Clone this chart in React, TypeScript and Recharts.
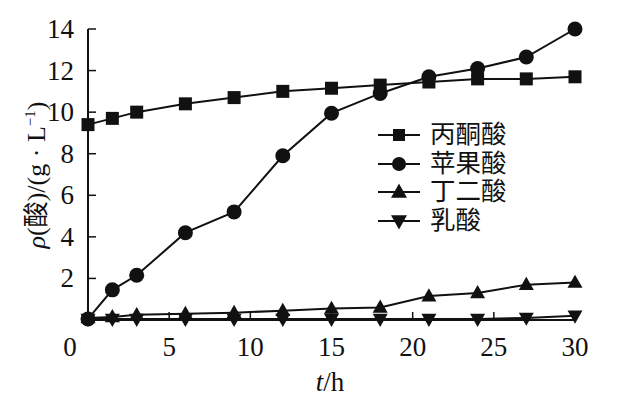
import { LineChart, Line, XAxis, YAxis, Legend } from 'recharts'

const hours = [0, 1.5, 3, 6, 9, 12, 15, 18, 21, 24, 27, 30]
const pyruvate = [9.4, 9.7, 10.0, 10.4, 10.7, 11.0, 11.15, 11.3, 11.45, 11.6, 11.6, 11.7]
const malic = [0.05, 1.45, 2.15, 4.2, 5.2, 7.9, 9.95, 10.9, 11.7, 12.1, 12.65, 14.0]
const succinic = [0.1, 0.15, 0.25, 0.3, 0.35, 0.45, 0.55, 0.6, 1.15, 1.3, 1.7, 1.8]
const lactic = [0.05, 0.05, 0.05, 0.05, 0.05, 0.05, 0.05, 0.05, 0.05, 0.05, 0.1, 0.2]

const seriesNames = ['丙酮酸', '苹果酸', '丁二酸', '乳酸']
const xTicks = [0, 5, 10, 15, 20, 25, 30]
const yTicks = [2, 4, 6, 8, 10, 12, 14]

const data = hours.map((t, i) => ({
  t,
  pyruvate: pyruvate[i],
  malic: malic[i],
  succinic: succinic[i],
  lactic: lactic[i],
}))

const serif = '"Liberation Serif", "DejaVu Serif", serif'
const cjk = '"Liberation Serif", "Noto Sans CJK SC", serif'

type Shape = 'square' | 'circle' | 'up' | 'down'

// s = marker width in px
function marker(shape: Shape, cx: number, cy: number, s: number, key?: string) {
  if (shape === 'square') {
    return <rect key={key} x={cx - s / 2} y={cy - s / 2} width={s} height={s} fill="#111" />
  }
  if (shape === 'circle') {
    return <circle key={key} cx={cx} cy={cy} r={s / 2} fill="#111" />
  }
  const h = s * 0.88
  const w = s
  if (shape === 'up') {
    return (
      <polygon
        key={key}
        points={`${cx},${cy - h * 0.6} ${cx - w / 2},${cy + h * 0.4} ${cx + w / 2},${cy + h * 0.4}`}
        fill="#111"
      />
    )
  }
  return (
    <polygon
      key={key}
      points={`${cx},${cy + h * 0.6} ${cx - w / 2},${cy - h * 0.4} ${cx + w / 2},${cy - h * 0.4}`}
      fill="#111"
    />
  )
}

const dotFor = (shape: Shape, s: number) => (props: any) =>
  marker(shape, props.cx, props.cy, s, `${shape}-${props.index}`)

const XTick = (props: any) => {
  const { x, y, payload } = props
  const v = payload.value
  return (
    <g>
      {v !== 0 && <line x1={x} y1={y} x2={x} y2={y - 8} stroke="#111" strokeWidth={1.5} />}
      <text
        x={v === 0 ? x - 18 : x}
        y={y + 36}
        textAnchor="middle"
        style={{ fontFamily: serif, fontSize: 27 }}
        fill="#111"
      >
        {v}
      </text>
    </g>
  )
}

const YTick = (props: any) => {
  const { x, y, payload } = props
  return (
    <g>
      <line x1={x} y1={y} x2={x + 8} y2={y} stroke="#111" strokeWidth={1.5} />
      <text x={x - 14} y={y + 9} textAnchor="end" style={{ fontFamily: serif, fontSize: 27 }} fill="#111">
        {payload.value}
      </text>
    </g>
  )
}

const shapes: Shape[] = ['square', 'circle', 'up', 'down']
const legendSizes = [12, 14, 16, 16]

const renderLegend = () => (
  <div style={{ display: 'flex', flexDirection: 'column' }}>
    {seriesNames.map((name, i) => (
      <div key={name} style={{ display: 'flex', alignItems: 'center', height: 28.5 }}>
        <svg width={52} height={28} style={{ display: 'block' }}>
          <line x1={0} y1={14} x2={42} y2={14} stroke="#111" strokeWidth={2} />
          {marker(shapes[i], 21, 14, legendSizes[i])}
        </svg>
        <span style={{ fontFamily: cjk, fontSize: 25.5, color: '#111', lineHeight: '28px' }}>{name}</span>
      </div>
    ))}
  </div>
)

const XLabel = () => (
  <text x={330} y={391} textAnchor="middle" style={{ fontFamily: serif, fontSize: 27 }} fill="#111">
    <tspan fontStyle="italic">t</tspan>
    <tspan>/h</tspan>
  </text>
)

const YLabel = () => (
  <text
    x={0}
    y={0}
    transform="translate(45,175) rotate(-90)"
    textAnchor="middle"
    style={{ fontFamily: cjk, fontSize: 26 }}
    fill="#111"
  >
    <tspan fontStyle="italic">ρ</tspan>
    <tspan>(酸)/(g · L</tspan>
    <tspan fontSize={15} dy={-10}>−1</tspan>
    <tspan dy={10}>)</tspan>
  </text>
)

export default function App() {
  return (
    <div style={{ position: 'absolute', left: 0, top: 0, width: 621, height: 408, background: '#fff' }}>
      <LineChart width={621} height={408} data={data} margin={{ top: 29, right: 46, bottom: 0, left: 0 }}>
        <XAxis
          dataKey="t"
          type="number"
          domain={[0, 30]}
          ticks={xTicks}
          height={88}
          tickSize={0}
          tickMargin={0}
          tick={<XTick />}
          tickLine={false}
          axisLine={{ stroke: '#111', strokeWidth: 2 }}
          label={{ value: 't/h', position: 'insideBottom', content: XLabel }}
        />
        <YAxis
          type="number"
          domain={[0, 14]}
          ticks={yTicks}
          width={88}
          tickSize={0}
          tickMargin={0}
          tick={<YTick />}
          tickLine={false}
          axisLine={{ stroke: '#111', strokeWidth: 2 }}
          label={{ value: 'ρ(酸)/(g · L⁻¹)', position: 'insideLeft', content: YLabel }}
        />
        <Legend
          layout="vertical"
          align="center"
          verticalAlign="middle"
          content={renderLegend}
          wrapperStyle={{ position: 'absolute', left: 378, top: 121, width: 160 }}
        />
        <Line
          dataKey="lactic"
          name={seriesNames[3]}
          stroke="#111"
          strokeWidth={2}
          dot={dotFor('down', 15)}
          isAnimationActive={false}
        />
        <Line
          dataKey="succinic"
          name={seriesNames[2]}
          stroke="#111"
          strokeWidth={2}
          dot={dotFor('up', 15)}
          isAnimationActive={false}
        />
        <Line
          dataKey="malic"
          name={seriesNames[1]}
          stroke="#111"
          strokeWidth={2}
          dot={dotFor('circle', 15)}
          isAnimationActive={false}
        />
        <Line
          dataKey="pyruvate"
          name={seriesNames[0]}
          stroke="#111"
          strokeWidth={2}
          dot={dotFor('square', 13)}
          isAnimationActive={false}
        />
      </LineChart>
    </div>
  )
}
